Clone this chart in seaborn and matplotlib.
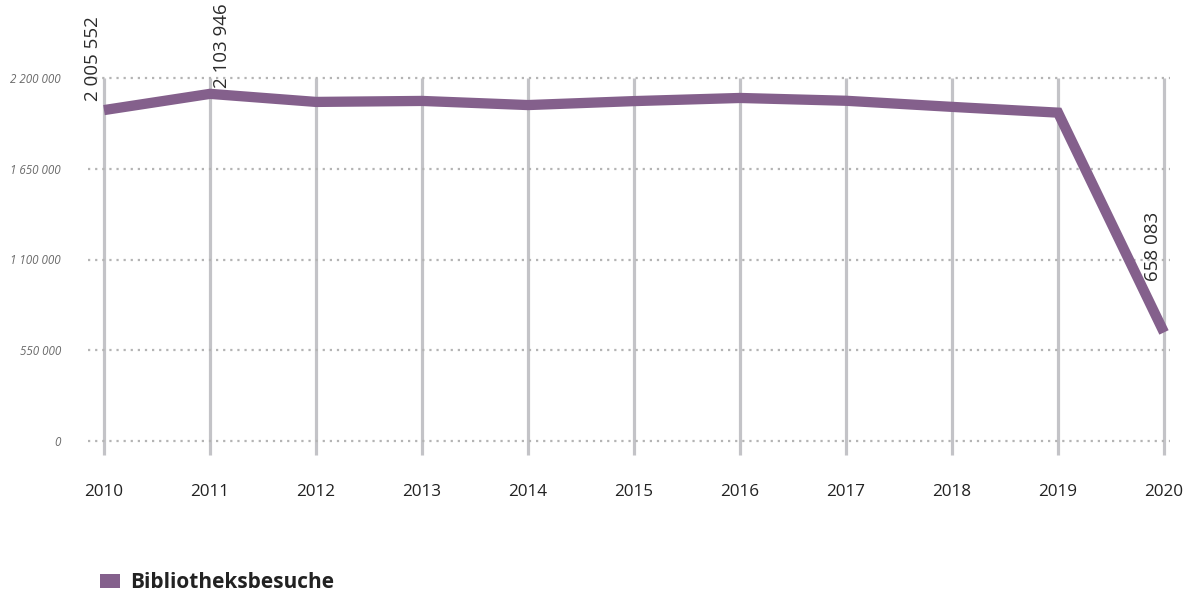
import matplotlib
matplotlib.use("Agg")
import matplotlib.pyplot as plt
from matplotlib.patches import Patch
import seaborn as sns
import pandas as pd

# Library visits per year
years = [2010, 2011, 2012, 2013, 2014, 2015, 2016, 2017, 2018, 2019, 2020]
visits = [2005552, 2103946, 2055000, 2061000, 2036000, 2060000, 2079000,
          2062000, 2025000, 1990000, 658083]
y_ticks = [0, 550000, 1100000, 1650000, 2200000]
y_tick_labels = ["0", "550 000", "1 100 000", "1 650 000", "2 200 000"]
series_name = "Bibliotheksbesuche"

# Labelled points: (year, value, x offset px, y offset px)
labelled = [(2010, 2005552, -11, 9), (2011, 2103946, 12, 6), (2020, 658083, -11, 51)]

LINE_COLOR = "#84608c"
GRID_V = "#c3c3c7"
GRID_H = "#b4b4b4"

sns.set_theme(style="white")
plt.rcParams["font.family"] = ["Open Sans", "DejaVu Sans"]

df = pd.DataFrame({"Jahr": years, "Besuche": visits})

fig = plt.figure(figsize=(12, 5.93), dpi=100)
ax = fig.add_axes([88 / 1200, (593 - 455.85) / 593, 1082 / 1200, 386.1 / 593])

ax.set_xlim(2010 - 16 / 106, 2020 + 6 / 106)
ax.set_ylim(-90000, 2250000)

# vertical year lines
ax.vlines(years, -85000, 2200000, colors=GRID_V, linewidth=2.3, zorder=1)
# dotted horizontal gridlines
for t in y_ticks:
    ax.axhline(t, color=GRID_H, linewidth=1.6, linestyle=(0, (1, 2.2)), zorder=1)

sns.lineplot(data=df, x="Jahr", y="Besuche", ax=ax, color=LINE_COLOR,
             linewidth=7.4, solid_capstyle="butt", solid_joinstyle="miter",
             zorder=3, legend=False)

for yr, val, dx, dy in labelled:
    txt = f"{val:,}".replace(",", " ")
    ax.annotate(txt, xy=(yr, val), xytext=(dx * 0.72, dy * 0.72),
                textcoords="offset points", rotation=90, ha="center", va="bottom",
                fontsize=13.5, color="#2b2b2b", annotation_clip=False)

for s in ax.spines.values():
    s.set_visible(False)

ax.set_xticks(years)
ax.set_xticklabels([str(y) for y in years], fontsize=12.3, color="#222222")
ax.tick_params(axis="x", length=0, pad=20.5)
ax.set_yticks(y_ticks)
ax.set_yticklabels(y_tick_labels, fontsize=8.4, color="#6b6b6b", style="italic")
ax.tick_params(axis="y", length=0, pad=19.5)
ax.set_xlabel("")
ax.set_ylabel("")

leg = fig.legend(handles=[Patch(facecolor=LINE_COLOR, edgecolor="none", label=series_name)],
                 loc="center left", bbox_to_anchor=(81 / 1200, 1 - 583 / 593),
                 frameon=False, handlelength=0.96, handleheight=0.67, handletextpad=0.48,
                 prop={"weight": "bold", "size": 15})
for t in leg.get_texts():
    t.set_color("#222222")

fig.savefig("out.png", dpi=100, facecolor="white")
